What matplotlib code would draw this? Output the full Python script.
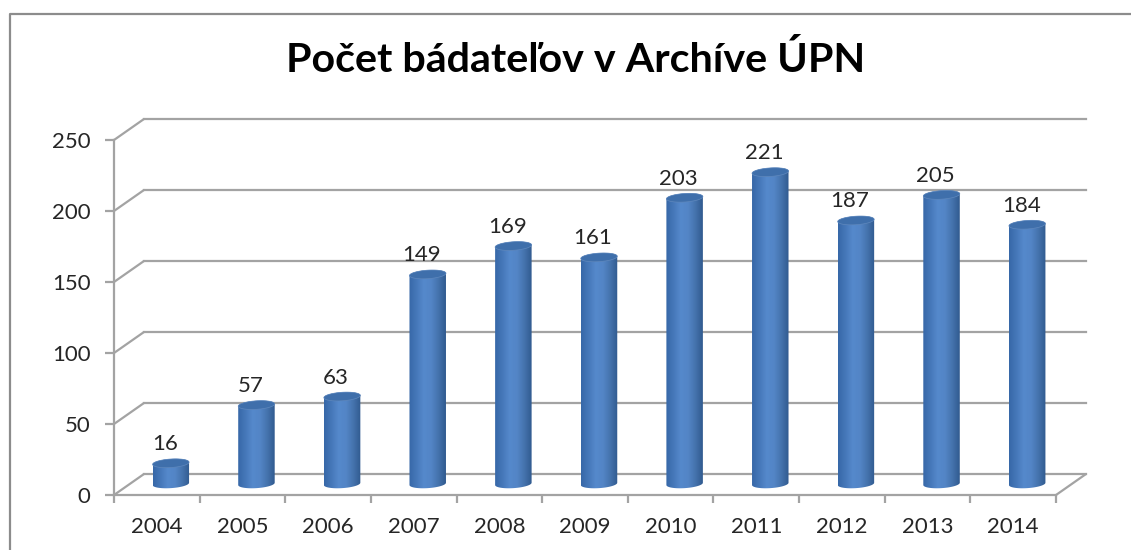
import numpy as np
import matplotlib
matplotlib.use('Agg')
import matplotlib.pyplot as plt
from matplotlib.colors import LinearSegmentedColormap
from matplotlib.patches import Polygon
from matplotlib.transforms import ScaledTranslation

years = ['2004', '2005', '2006', '2007', '2008', '2009', '2010', '2011', '2012', '2013', '2014']
counts = [16, 57, 63, 149, 169, 161, 203, 221, 187, 205, 184]
y_ticks = [0, 50, 100, 150, 200, 250]
title = 'Počet bádateľov v Archíve ÚPN'

W, H = 1131, 550
GREY = '#a3a3a3'
TEXT = '#262626'
plt.rcParams['font.family'] = ['Lato', 'DejaVu Sans']

fig = plt.figure(figsize=(W / 100, H / 100), dpi=100)
ax = fig.add_axes([114 / W, 1 - 495 / H, 942 / W, 355 / H])
ax.set_xlim(-0.5, len(years) - 0.5)
ax.set_ylim(0, 250)

# outer frame of the chart, only left and top are inside the picture
fig.add_artist(plt.Line2D([9.5 / W, 9.5 / W, 1], [0, 1 - 13.5 / H, 1 - 13.5 / H], color='#8c8c8c', lw=1.6))


def px(dx, dy):
    return ScaledTranslation(dx / 100, -dy / 100, fig.dpi_scale_trans)


def diagonal(x, v):
    x0, y0 = ax.transData.transform((x, v))
    ax.annotate('', xy=(x0 + 30, y0 + 21), xytext=(x0, y0), xycoords='figure pixels', textcoords='figure pixels',
                arrowprops=dict(arrowstyle='-', color=GREY, lw=1.6, shrinkA=0, shrinkB=0), zorder=1)


# back wall and floor are the front axes shifted by this much
back = ax.transData + px(30, -21)
for v in y_ticks:
    ax.plot([-0.5, len(years) - 0.5], [v, v], color=GREY, lw=1.6, transform=back, clip_on=False, zorder=1)
    diagonal(-0.5, v)
diagonal(len(years) - 0.5, 0)

# cylinders
side = LinearSegmentedColormap.from_list('side', ['#3768a8', '#4678b9', '#5589cc', '#5385c6', '#4573ad', '#315b90'])
bar_tr = ax.transData + px(14, -9)
half_w = 0.213
half_h = 3.0
tilt = 0.8
base = 1.5
t = np.linspace(0, np.pi, 60)
for i, v in enumerate(counts):
    dx = half_w * np.cos(t)
    up = half_h * np.sin(t)
    slope = tilt * dx / half_w
    # right to left over the top, then left to right under the base
    xs = np.r_[i + dx, i - dx]
    ys = np.r_[v + up + slope, base - up - slope]
    body = Polygon(np.c_[xs, ys], closed=True, transform=bar_tr, facecolor='none', edgecolor='none', zorder=3)
    ax.add_patch(body)
    im = ax.imshow(np.linspace(0, 1, 64)[None, :], cmap=side, aspect='auto', zorder=3,
                   extent=(i - half_w, i + half_w, -10, v + 10), transform=bar_tr)
    im.set_clip_path(body)
    lid = Polygon(np.c_[xs, np.r_[v + up + slope, v - up - slope]], closed=True,
                  transform=bar_tr, facecolor='#3f6fab', edgecolor='#5f88bd', lw=0.5, zorder=4)
    ax.add_patch(lid)
    ax.annotate(str(v), (i, v), xytext=(8, 28), textcoords='offset pixels', ha='center', va='center',
                fontsize=16, color=TEXT, zorder=5)
ax.set_xlim(-0.5, len(years) - 0.5)
ax.set_ylim(0, 250)

for s in ['top', 'right']:
    ax.spines[s].set_visible(False)
for s in ['left', 'bottom']:
    ax.spines[s].set_color(GREY)
    ax.spines[s].set_linewidth(1.6)
ax.patch.set_visible(False)

ax.set_xticks(np.arange(len(years) + 1) - 0.5, labels=[])
ax.set_xticks(np.arange(len(years)), labels=years, minor=True)
ax.tick_params(axis='x', which='major', length=6, width=1.6, color=GREY)
ax.tick_params(axis='x', which='minor', length=0, pad=16, labelsize=16, labelcolor=TEXT)
ax.set_yticks(y_ticks)
ax.tick_params(axis='y', length=6.5, width=1.6, color=GREY, pad=10.5, labelsize=16, labelcolor=TEXT)

fig.text(576 / W, 1 - 60 / H, title, ha='center', va='center', fontsize=29.7, fontweight='bold', color='black')

fig.savefig('out.png', dpi=100)
